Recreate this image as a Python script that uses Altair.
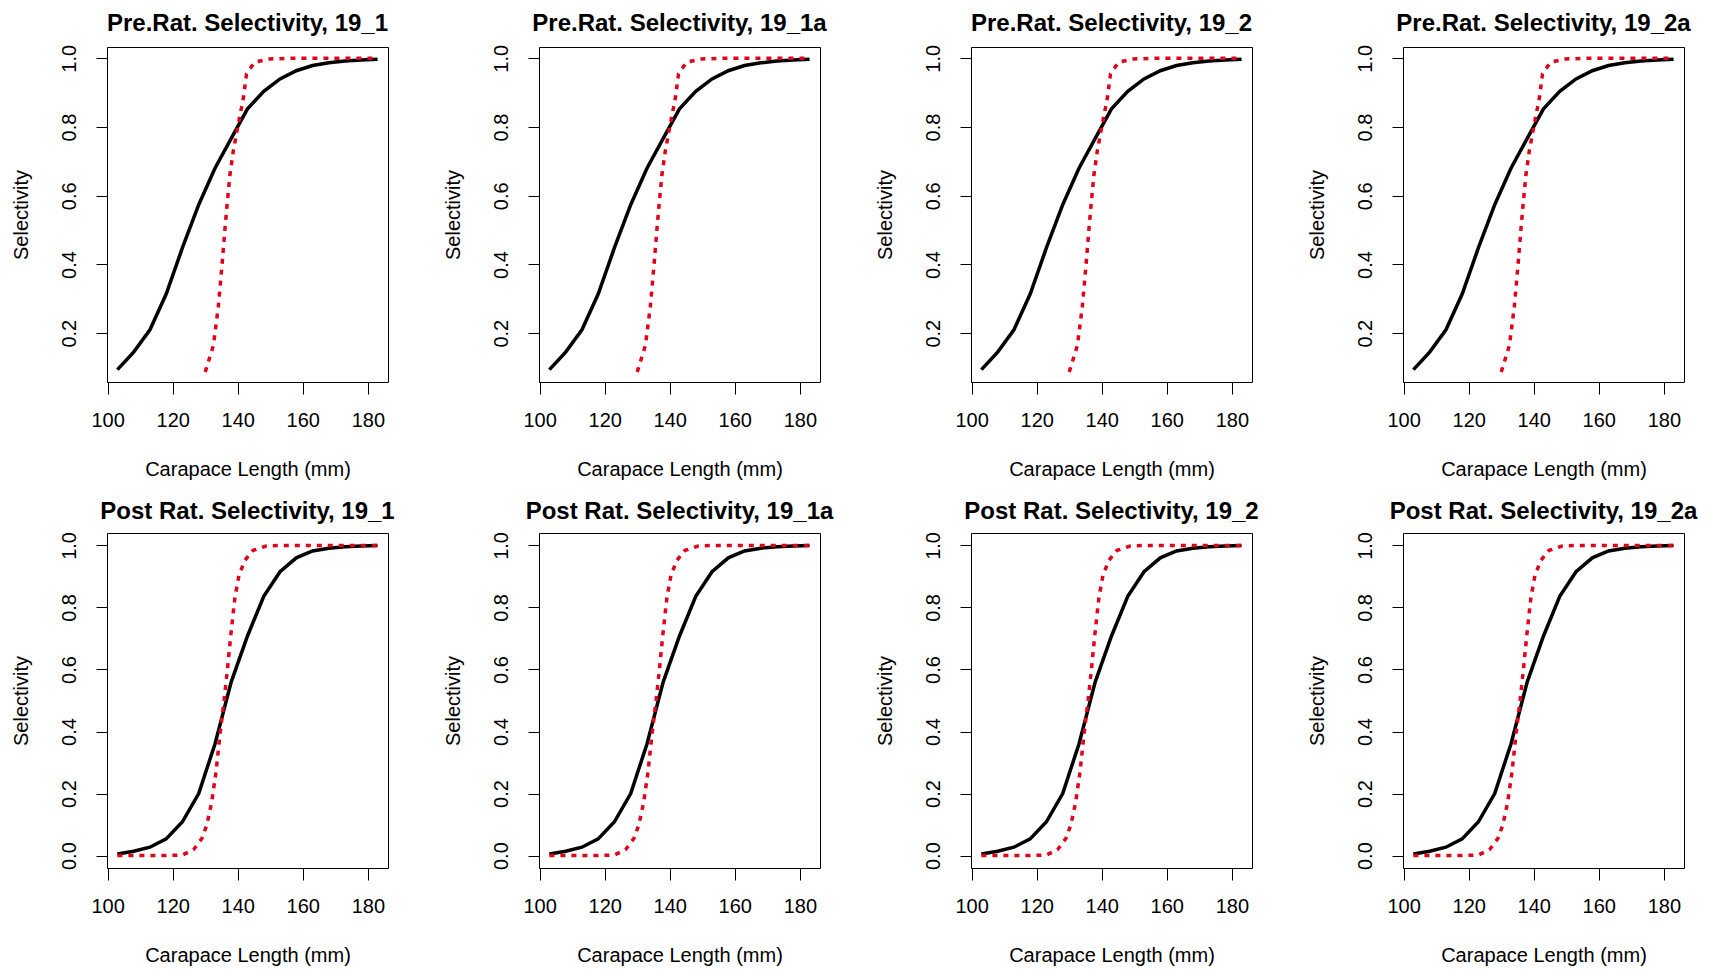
import altair as alt
import pandas as pd

# ---- data ----
length = [103, 108, 113, 118, 123, 128, 133, 138, 143, 148, 153, 158, 163, 168, 173, 178, 183]

pre_model = [0.094, 0.145, 0.210, 0.314, 0.449, 0.574, 0.680, 0.767, 0.853, 0.904,
             0.940, 0.964, 0.979, 0.987, 0.992, 0.995, 0.997]
pre_ref_len = [130, 132.5, 134, 135.1, 136.1, 136.9, 137.6, 138.6, 140.1, 141.7, 142.7,
               145.2, 149.8, 155, 160, 165, 170, 175, 180, 183]
pre_ref = [0.087, 0.164, 0.275, 0.391, 0.507, 0.593, 0.661, 0.728, 0.806, 0.882, 0.955,
           0.989, 0.998, 1.0, 1.0, 1.0, 1.0, 1.0, 1.0, 1.0]

post_model = [0.005, 0.014, 0.027, 0.054, 0.109, 0.200, 0.360, 0.560, 0.708, 0.836,
              0.915, 0.960, 0.982, 0.991, 0.996, 0.998, 1.0]
post_ref_len = [103, 108, 113, 118, 123, 126.4, 129.0, 130.5, 132.0, 133.3, 134.6, 135.8,
                136.9, 137.9, 139.1, 140.4, 142.2, 144.7, 148.8, 153, 158, 163, 168, 173, 178, 183]
post_ref = [0.0, 0.0, 0.0, 0.0, 0.002, 0.019, 0.056, 0.099, 0.173, 0.268, 0.396, 0.500,
            0.608, 0.714, 0.830, 0.905, 0.952, 0.984, 0.998, 1.0, 1.0, 1.0, 1.0, 1.0, 1.0, 1.0]

runs = ["19_1", "19_1a", "19_2", "19_2a"]
pre_titles = ["Pre.Rat. Selectivity, " + r for r in runs]
post_titles = ["Post Rat. Selectivity, " + r for r in runs]

x_ticks = [100, 120, 140, 160, 180]
pre_y_ticks = [0.2, 0.4, 0.6, 0.8, 1.0]
post_y_ticks = [0.0, 0.2, 0.4, 0.6, 0.8, 1.0]

X_DOMAIN = [99.8, 186.2]
PRE_Y_DOMAIN = [0.058, 1.033]
POST_Y_DOMAIN = [-0.04, 1.04]

FONT = "Liberation Sans"
RED = "#e3001b"
W, H = 281, 335


def panel(title, mx, my, rx, ry, ydom, yticks):
    d_model = pd.DataFrame({"len": mx, "sel": my})
    d_ref = pd.DataFrame({"len": rx, "sel": ry})
    xs = alt.Scale(domain=X_DOMAIN, nice=False, zero=False)
    ys = alt.Scale(domain=ydom, nice=False, zero=False)
    xax = alt.Axis(values=x_ticks, title="Carapace Length (mm)", tickSize=12,
                   labelPadding=16, titlePadding=29, labelFlush=False)
    yax = alt.Axis(values=yticks, format=".1f", title="Selectivity", labelAngle=270,
                   labelAlign="center", labelBaseline="bottom", tickSize=11,
                   labelPadding=17, titlePadding=28, labelFlush=False)
    enc_x = alt.X("len:Q", scale=xs, axis=xax)
    enc_y = alt.Y("sel:Q", scale=ys, axis=yax)
    model = alt.Chart(d_model).mark_line(color="black", strokeWidth=3.5, clip=True).encode(
        x=enc_x, y=enc_y)
    ref = alt.Chart(d_ref).mark_line(color=RED, strokeWidth=3.5, strokeDash=[5, 6],
                                     strokeCap="butt", clip=True).encode(x=enc_x, y=enc_y)
    return alt.layer(model, ref).properties(
        width=W, height=H,
        title=alt.TitleParams(title, frame="group", anchor="middle", offset=8))


panels = [panel(t, length, pre_model, pre_ref_len, pre_ref, PRE_Y_DOMAIN, pre_y_ticks)
          for t in pre_titles]
panels += [panel(t, length, post_model, post_ref_len, post_ref, POST_Y_DOMAIN, post_y_ticks)
           for t in post_titles]

chart = alt.concat(*panels, columns=4, spacing=151, bounds="flush").properties(
    padding={"left": 2, "top": 3, "right": 5, "bottom": 5}
).configure_view(
    stroke="black", strokeWidth=1
).configure_axis(
    labelFont=FONT, labelFontSize=20, labelColor="black",
    titleFont=FONT, titleFontSize=20, titleFontWeight="normal", titleColor="black",
    tickColor="black", tickWidth=1, domain=False, grid=False
).configure_title(
    font=FONT, fontSize=24, fontWeight="bold", color="black"
)

chart.save("out.html", embed_options={"renderer": "svg", "actions": False})
